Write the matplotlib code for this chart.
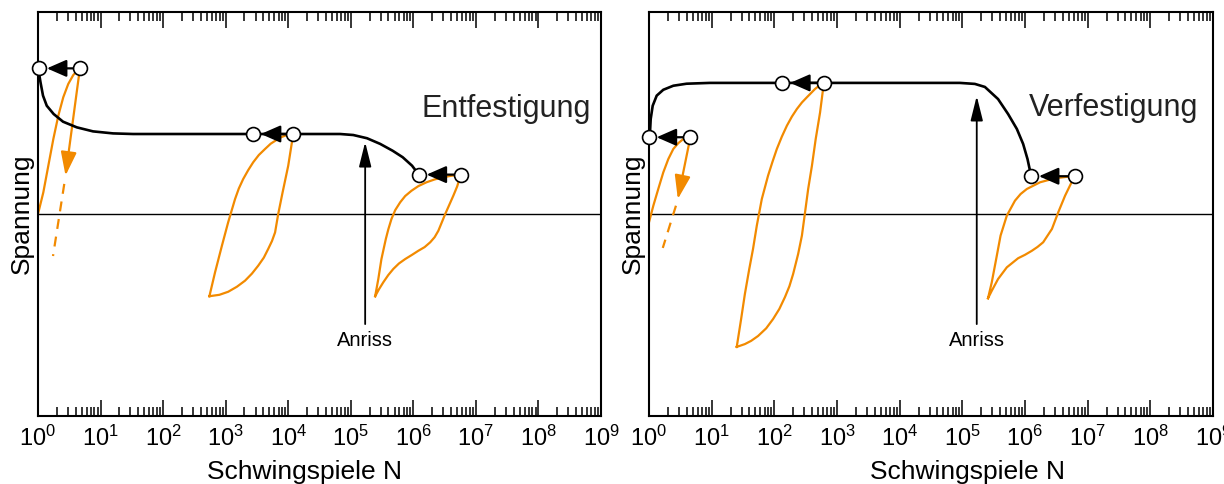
import numpy as np
import matplotlib
matplotlib.use("Agg")
import matplotlib.pyplot as plt

plt.rcParams['font.family'] = ['Liberation Sans', 'DejaVu Sans']
plt.rcParams['mathtext.fontset'] = 'custom'
plt.rcParams['mathtext.rm'] = 'Liberation Sans'
plt.rcParams['mathtext.it'] = 'Liberation Sans:italic'

ORANGE = '#f28a00'

# log10(N) positions and stress values (schematic units, -100..100)

# --- Entfestigung (left) ---
ent_curve_lg = [0.00, 0.02, 0.04, 0.08, 0.14, 0.25, 0.40, 0.62, 0.88, 1.20, 1.52, 2.50, 3.50,
                4.83, 5.04, 5.26, 5.47, 5.67, 5.83, 5.98, 6.06, 6.09]
ent_curve_s = [72.1, 69.0, 65.2, 58.6, 53.6, 49.5, 45.7, 42.9, 40.9, 39.9, 39.6, 39.6, 39.6,
               39.6, 39.1, 37.5, 34.7, 31.3, 28.1, 23.9, 20.6, 19.5]

ent_pts_lg = [(0.02, 0.67), (3.44, 4.08), (6.09, 6.76)]
ent_pts_s = [72.1, 39.6, 19.5]

# first loading cycle: rising branch, falling branch (solid part + dashed part)
ent_first_up_lg = [0.00, 0.085, 0.165, 0.245, 0.325, 0.404, 0.484, 0.564, 0.628, 0.67]
ent_first_up_s = [0.0, 10.7, 23.9, 37.1, 48.7, 57.8, 64.4, 68.8, 70.9, 72.1]
ent_first_down_lg = [0.67, 0.44]
ent_first_down_s = [72.1, 19.0]
ent_first_dash_lg = [0.42, 0.24]
ent_first_dash_s = [14.9, -20.8]

ent_loop2_lg = [2.74, 2.83, 2.94, 3.04, 3.15, 3.21, 3.28, 3.36, 3.44, 3.53, 3.63, 3.72, 3.82,
                3.90, 3.98, 4.08,
                4.00, 3.91, 3.84, 3.79, 3.74, 3.68, 3.61, 3.52, 3.42, 3.31, 3.18, 3.04,
                2.90, 2.74]
ent_loop2_s = [-40.7, -28.9, -15.7, -4.1, 7.4, 12.6, 17.3, 21.7, 25.6, 29.2, 32.2, 34.8, 36.8,
               38.2, 39.1, 39.6,
               23.9, 10.7, 0.0, -9.1, -13.4, -17.3, -21.6, -25.6, -29.5, -33.0, -36.0, -38.5,
               -40.0, -40.7]

ent_loop3_lg = [5.39, 5.44, 5.49, 5.56, 5.60, 5.65, 5.71, 5.79, 5.87, 5.97, 6.08, 6.21, 6.34,
                6.48, 6.60, 6.72, 6.76,
                6.70, 6.64, 6.51, 6.40, 6.34, 6.27, 6.18, 6.08, 5.98, 5.87, 5.77, 5.68,
                5.60, 5.52, 5.45, 5.39]
ent_loop3_s = [-40.7, -32.2, -22.3, -12.4, -7.6, -2.5, 1.9, 5.8, 8.9, 11.5, 13.8, 15.7, 17.1,
               18.2, 18.9, 19.3, 19.5,
               13.6, 9.1, 0.0, -8.3, -11.5, -14.0, -16.4, -18.2, -20.2, -22.3, -24.5, -27.2,
               -30.2, -33.8, -37.3, -40.7]

ent_crack_lg = 5.23
ent_crack_s = (-54.5, 35.6)

# --- Verfestigung (right) ---
ver_curve_lg = [0.00, 0.016, 0.027, 0.059, 0.123, 0.228, 0.388, 0.60, 0.97, 4.96, 5.20,
                5.36, 5.57, 5.73, 5.87, 5.97, 6.04, 6.08, 6.10]
ver_curve_s = [38.0, 40.4, 47.0, 53.6, 58.6, 61.5, 63.5, 64.5, 64.9, 64.9, 64.4,
               62.9, 56.9, 49.5, 42.1, 34.7, 27.2, 21.4, 18.7]

ver_pts_lg = [(0.0, 0.66), (2.13, 2.79), (6.10, 6.79)]
ver_pts_s = [38.0, 64.9, 18.7]

ver_first_up_lg = [0.00, 0.069, 0.148, 0.228, 0.308, 0.388, 0.468, 0.547, 0.611, 0.66]
ver_first_up_s = [-4.1, 4.1, 12.4, 20.6, 27.2, 32.2, 35.1, 37.1, 38.0, 38.0]
ver_first_down_lg = [0.66, 0.46]
ver_first_down_s = [38.0, 7.4]
ver_first_dash_lg = [0.43, 0.22]
ver_first_dash_s = [4.1, -16.8]

ver_loop2_lg = [1.40, 1.47, 1.53, 1.60, 1.66, 1.72, 1.80, 1.90, 1.97, 2.04, 2.12, 2.20, 2.28,
                2.36, 2.44, 2.52, 2.65, 2.73, 2.79,
                2.73, 2.66, 2.60, 2.54, 2.49, 2.44, 2.38, 2.30, 2.24, 2.17, 2.08, 1.98, 1.87,
                1.74, 1.63, 1.53, 1.40]
ver_loop2_s = [-65.8, -52.0, -39.6, -27.2, -17.3, -5.8, 7.4, 19.0, 25.8, 32.2, 38.3, 43.7, 48.2,
               52.0, 55.2, 57.8, 61.9, 63.9, 64.9,
               50.3, 37.1, 23.9, 12.4, 0.8, -10.7, -19.8, -29.7, -35.8, -41.1, -47.0, -52.0,
               -56.6, -60.4, -62.8, -64.4, -65.8]

ver_loop3_lg = [5.41, 5.47, 5.54, 5.61, 5.71, 5.84, 5.93, 6.03, 6.24, 6.48, 6.69, 6.79,
                6.64, 6.53, 6.43, 6.29, 6.20, 6.11, 6.00, 5.89, 5.71, 5.57, 5.47, 5.41]
ver_loop3_s = [-41.7, -33.8, -22.3, -10.7, -0.8, 6.6, 9.9, 12.4, 15.7, 17.7, 18.5, 18.7,
               9.1, 0.8, -7.4, -14.0, -16.3, -18.2, -20.2, -21.9, -26.4, -32.2, -38.0, -41.7]

ver_crack_lg = 5.23
ver_crack_s = (-54.5, 58.4)

decades = np.arange(0, 10)
tick_labels = [r'$\mathregular{10^{%d}}$' % d for d in decades]


def N(lg):
    return 10.0 ** np.asarray(lg, dtype=float)


def draw_panel(ax, curve, pts, first_up, first_down, first_dash, loops, crack, title,
               title_pos, xlabel_x):
    ax.set_xscale('log')
    ax.set_xlim(1, 1e9)
    ax.set_ylim(-100, 100)

    ax.axhline(0, color='black', lw=1.0, zorder=1)

    # hysteresis loops
    ax.plot(N(first_up[0]), first_up[1], color=ORANGE, lw=1.6, zorder=2)
    ax.annotate('', xy=(N(first_down[0][1]), first_down[1][1]),
                xytext=(N(first_down[0][0]), first_down[1][0]),
                arrowprops=dict(arrowstyle='-|>,head_length=0.9,head_width=0.3',
                                color=ORANGE, lw=1.6, mutation_scale=16,
                                shrinkA=0, shrinkB=0), zorder=2)
    ax.plot(N(first_dash[0]), first_dash[1], color=ORANGE, lw=1.6,
            dashes=(4.5, 3.5), zorder=2)
    for lg, s in loops:
        ax.plot(N(lg), s, color=ORANGE, lw=1.6, zorder=2, solid_joinstyle='round')

    # stress amplitude over cycles
    ax.plot(N(curve[0]), curve[1], color='black', lw=1.9, zorder=3,
            solid_joinstyle='round')

    # crack initiation marker
    ax.annotate('', xy=(N(crack[0]), crack[1][1]), xytext=(N(crack[0]), crack[1][0]),
                arrowprops=dict(arrowstyle='-|>,head_length=1.0,head_width=0.25',
                                color='black', lw=1.3, mutation_scale=15,
                                shrinkA=0, shrinkB=0), zorder=3)
    ax.text(N(crack[0]), -65.3, 'Anriss', ha='center', va='baseline', fontsize=14.5)

    # amplitude change between start and end of a loop
    for (lg_a, lg_b), s in zip(pts[0], pts[1]):
        ax.annotate('', xy=(N(lg_a), s), xytext=(N(lg_b), s),
                    arrowprops=dict(arrowstyle='-|>,head_length=0.8,head_width=0.35',
                                    color='black', lw=1.6, mutation_scale=15,
                                    shrinkA=5, shrinkB=5.5), zorder=4)
        ax.plot(N([lg_a, lg_b]), [s, s], linestyle='none', marker='o', ms=10,
                mfc='white', mec='black', mew=1.2, zorder=5, clip_on=False)

    ax.text(title_pos[0], title_pos[1], title, transform=ax.transAxes,
            ha='center', va='baseline', fontsize=22, color='#222222')

    ax.set_xticks(N(decades))
    ax.set_xticklabels(tick_labels)
    ax.xaxis.set_minor_locator(matplotlib.ticker.LogLocator(base=10, subs=np.arange(2, 10),
                                                            numticks=100))
    ax.xaxis.set_minor_formatter(matplotlib.ticker.NullFormatter())
    ax.set_yticks([])
    ax.tick_params(which='both', direction='in', top=True, bottom=True, width=1.1)
    ax.tick_params(which='major', length=11.5, labelsize=17, pad=7)
    ax.tick_params(which='minor', length=6.5)
    for sp in ax.spines.values():
        sp.set_linewidth(1.5)

    ax.set_xlabel('Schwingspiele N', fontsize=19)
    ax.xaxis.set_label_coords(xlabel_x, -0.11)
    ax.set_ylabel('Spannung', fontsize=19, labelpad=3)


fig = plt.figure(figsize=(12.24, 4.84), dpi=100)
ax1 = fig.add_axes([38 / 1224, 68 / 484, 563 / 1224, 404 / 484])
ax2 = fig.add_axes([649 / 1224, 68 / 484, 564 / 1224, 404 / 484])

draw_panel(ax1, (ent_curve_lg, ent_curve_s), (ent_pts_lg, ent_pts_s),
           (ent_first_up_lg, ent_first_up_s), (ent_first_down_lg, ent_first_down_s),
           (ent_first_dash_lg, ent_first_dash_s),
           [(ent_loop2_lg, ent_loop2_s), (ent_loop3_lg, ent_loop3_s)],
           (ent_crack_lg, ent_crack_s), 'Entfestigung', (0.831, 0.740), 0.4725)

draw_panel(ax2, (ver_curve_lg, ver_curve_s), (ver_pts_lg, ver_pts_s),
           (ver_first_up_lg, ver_first_up_s), (ver_first_down_lg, ver_first_down_s),
           (ver_first_dash_lg, ver_first_dash_s),
           [(ver_loop2_lg, ver_loop2_s), (ver_loop3_lg, ver_loop3_s)],
           (ver_crack_lg, ver_crack_s), 'Verfestigung', (0.824, 0.743), 0.5656)

fig.savefig('out.png', dpi=100)
